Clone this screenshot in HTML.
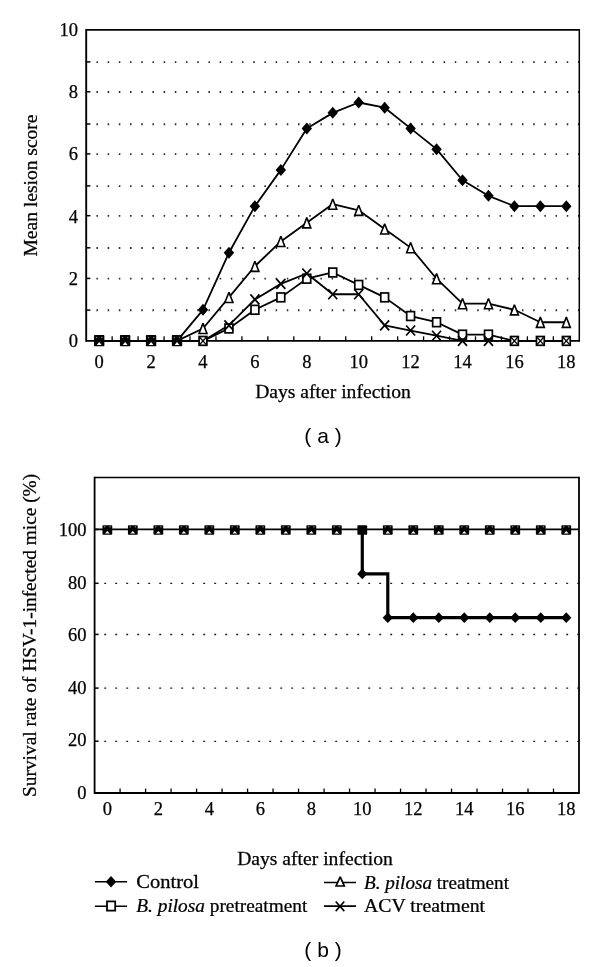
<!DOCTYPE html><html><head><meta charset="utf-8"><style>html,body{margin:0;padding:0;background:#fff;}svg{display:block;filter:grayscale(1)}</style></head><body>
<svg width="600" height="967" viewBox="0 0 600 967">
<rect width="600" height="967" fill="#fff"/>
<path d="M96.45 309.35h1.5v1.9h-1.5zM107.65 309.35h1.5v1.9h-1.5zM118.84 309.35h1.5v1.9h-1.5zM130.04 309.35h1.5v1.9h-1.5zM141.24 309.35h1.5v1.9h-1.5zM152.44 309.35h1.5v1.9h-1.5zM163.64 309.35h1.5v1.9h-1.5zM174.83 309.35h1.5v1.9h-1.5zM186.03 309.35h1.5v1.9h-1.5zM197.23 309.35h1.5v1.9h-1.5zM208.43 309.35h1.5v1.9h-1.5zM219.63 309.35h1.5v1.9h-1.5zM230.82 309.35h1.5v1.9h-1.5zM242.02 309.35h1.5v1.9h-1.5zM253.22 309.35h1.5v1.9h-1.5zM264.42 309.35h1.5v1.9h-1.5zM275.62 309.35h1.5v1.9h-1.5zM286.81 309.35h1.5v1.9h-1.5zM298.01 309.35h1.5v1.9h-1.5zM309.21 309.35h1.5v1.9h-1.5zM320.41 309.35h1.5v1.9h-1.5zM331.61 309.35h1.5v1.9h-1.5zM342.80 309.35h1.5v1.9h-1.5zM354.00 309.35h1.5v1.9h-1.5zM365.20 309.35h1.5v1.9h-1.5zM376.40 309.35h1.5v1.9h-1.5zM387.60 309.35h1.5v1.9h-1.5zM398.79 309.35h1.5v1.9h-1.5zM409.99 309.35h1.5v1.9h-1.5zM421.19 309.35h1.5v1.9h-1.5zM432.39 309.35h1.5v1.9h-1.5zM443.59 309.35h1.5v1.9h-1.5zM454.78 309.35h1.5v1.9h-1.5zM465.98 309.35h1.5v1.9h-1.5zM477.18 309.35h1.5v1.9h-1.5zM488.38 309.35h1.5v1.9h-1.5zM499.58 309.35h1.5v1.9h-1.5zM510.77 309.35h1.5v1.9h-1.5zM521.97 309.35h1.5v1.9h-1.5zM533.17 309.35h1.5v1.9h-1.5zM544.37 309.35h1.5v1.9h-1.5zM555.57 309.35h1.5v1.9h-1.5zM566.76 309.35h1.5v1.9h-1.5zM577.96 309.35h1.5v1.9h-1.5z" fill="#2a2a2a"/>
<path d="M96.45 277.65h1.5v1.9h-1.5zM107.65 277.65h1.5v1.9h-1.5zM118.84 277.65h1.5v1.9h-1.5zM130.04 277.65h1.5v1.9h-1.5zM141.24 277.65h1.5v1.9h-1.5zM152.44 277.65h1.5v1.9h-1.5zM163.64 277.65h1.5v1.9h-1.5zM174.83 277.65h1.5v1.9h-1.5zM186.03 277.65h1.5v1.9h-1.5zM197.23 277.65h1.5v1.9h-1.5zM208.43 277.65h1.5v1.9h-1.5zM219.63 277.65h1.5v1.9h-1.5zM230.82 277.65h1.5v1.9h-1.5zM242.02 277.65h1.5v1.9h-1.5zM253.22 277.65h1.5v1.9h-1.5zM264.42 277.65h1.5v1.9h-1.5zM275.62 277.65h1.5v1.9h-1.5zM286.81 277.65h1.5v1.9h-1.5zM298.01 277.65h1.5v1.9h-1.5zM309.21 277.65h1.5v1.9h-1.5zM320.41 277.65h1.5v1.9h-1.5zM331.61 277.65h1.5v1.9h-1.5zM342.80 277.65h1.5v1.9h-1.5zM354.00 277.65h1.5v1.9h-1.5zM365.20 277.65h1.5v1.9h-1.5zM376.40 277.65h1.5v1.9h-1.5zM387.60 277.65h1.5v1.9h-1.5zM398.79 277.65h1.5v1.9h-1.5zM409.99 277.65h1.5v1.9h-1.5zM421.19 277.65h1.5v1.9h-1.5zM432.39 277.65h1.5v1.9h-1.5zM443.59 277.65h1.5v1.9h-1.5zM454.78 277.65h1.5v1.9h-1.5zM465.98 277.65h1.5v1.9h-1.5zM477.18 277.65h1.5v1.9h-1.5zM488.38 277.65h1.5v1.9h-1.5zM499.58 277.65h1.5v1.9h-1.5zM510.77 277.65h1.5v1.9h-1.5zM521.97 277.65h1.5v1.9h-1.5zM533.17 277.65h1.5v1.9h-1.5zM544.37 277.65h1.5v1.9h-1.5zM555.57 277.65h1.5v1.9h-1.5zM566.76 277.65h1.5v1.9h-1.5zM577.96 277.65h1.5v1.9h-1.5z" fill="#2a2a2a"/>
<path d="M96.45 247.05h1.5v1.9h-1.5zM107.65 247.05h1.5v1.9h-1.5zM118.84 247.05h1.5v1.9h-1.5zM130.04 247.05h1.5v1.9h-1.5zM141.24 247.05h1.5v1.9h-1.5zM152.44 247.05h1.5v1.9h-1.5zM163.64 247.05h1.5v1.9h-1.5zM174.83 247.05h1.5v1.9h-1.5zM186.03 247.05h1.5v1.9h-1.5zM197.23 247.05h1.5v1.9h-1.5zM208.43 247.05h1.5v1.9h-1.5zM219.63 247.05h1.5v1.9h-1.5zM230.82 247.05h1.5v1.9h-1.5zM242.02 247.05h1.5v1.9h-1.5zM253.22 247.05h1.5v1.9h-1.5zM264.42 247.05h1.5v1.9h-1.5zM275.62 247.05h1.5v1.9h-1.5zM286.81 247.05h1.5v1.9h-1.5zM298.01 247.05h1.5v1.9h-1.5zM309.21 247.05h1.5v1.9h-1.5zM320.41 247.05h1.5v1.9h-1.5zM331.61 247.05h1.5v1.9h-1.5zM342.80 247.05h1.5v1.9h-1.5zM354.00 247.05h1.5v1.9h-1.5zM365.20 247.05h1.5v1.9h-1.5zM376.40 247.05h1.5v1.9h-1.5zM387.60 247.05h1.5v1.9h-1.5zM398.79 247.05h1.5v1.9h-1.5zM409.99 247.05h1.5v1.9h-1.5zM421.19 247.05h1.5v1.9h-1.5zM432.39 247.05h1.5v1.9h-1.5zM443.59 247.05h1.5v1.9h-1.5zM454.78 247.05h1.5v1.9h-1.5zM465.98 247.05h1.5v1.9h-1.5zM477.18 247.05h1.5v1.9h-1.5zM488.38 247.05h1.5v1.9h-1.5zM499.58 247.05h1.5v1.9h-1.5zM510.77 247.05h1.5v1.9h-1.5zM521.97 247.05h1.5v1.9h-1.5zM533.17 247.05h1.5v1.9h-1.5zM544.37 247.05h1.5v1.9h-1.5zM555.57 247.05h1.5v1.9h-1.5zM566.76 247.05h1.5v1.9h-1.5zM577.96 247.05h1.5v1.9h-1.5z" fill="#2a2a2a"/>
<path d="M96.45 214.95h1.5v1.9h-1.5zM107.65 214.95h1.5v1.9h-1.5zM118.84 214.95h1.5v1.9h-1.5zM130.04 214.95h1.5v1.9h-1.5zM141.24 214.95h1.5v1.9h-1.5zM152.44 214.95h1.5v1.9h-1.5zM163.64 214.95h1.5v1.9h-1.5zM174.83 214.95h1.5v1.9h-1.5zM186.03 214.95h1.5v1.9h-1.5zM197.23 214.95h1.5v1.9h-1.5zM208.43 214.95h1.5v1.9h-1.5zM219.63 214.95h1.5v1.9h-1.5zM230.82 214.95h1.5v1.9h-1.5zM242.02 214.95h1.5v1.9h-1.5zM253.22 214.95h1.5v1.9h-1.5zM264.42 214.95h1.5v1.9h-1.5zM275.62 214.95h1.5v1.9h-1.5zM286.81 214.95h1.5v1.9h-1.5zM298.01 214.95h1.5v1.9h-1.5zM309.21 214.95h1.5v1.9h-1.5zM320.41 214.95h1.5v1.9h-1.5zM331.61 214.95h1.5v1.9h-1.5zM342.80 214.95h1.5v1.9h-1.5zM354.00 214.95h1.5v1.9h-1.5zM365.20 214.95h1.5v1.9h-1.5zM376.40 214.95h1.5v1.9h-1.5zM387.60 214.95h1.5v1.9h-1.5zM398.79 214.95h1.5v1.9h-1.5zM409.99 214.95h1.5v1.9h-1.5zM421.19 214.95h1.5v1.9h-1.5zM432.39 214.95h1.5v1.9h-1.5zM443.59 214.95h1.5v1.9h-1.5zM454.78 214.95h1.5v1.9h-1.5zM465.98 214.95h1.5v1.9h-1.5zM477.18 214.95h1.5v1.9h-1.5zM488.38 214.95h1.5v1.9h-1.5zM499.58 214.95h1.5v1.9h-1.5zM510.77 214.95h1.5v1.9h-1.5zM521.97 214.95h1.5v1.9h-1.5zM533.17 214.95h1.5v1.9h-1.5zM544.37 214.95h1.5v1.9h-1.5zM555.57 214.95h1.5v1.9h-1.5zM566.76 214.95h1.5v1.9h-1.5zM577.96 214.95h1.5v1.9h-1.5z" fill="#2a2a2a"/>
<path d="M96.45 185.15h1.5v1.9h-1.5zM107.65 185.15h1.5v1.9h-1.5zM118.84 185.15h1.5v1.9h-1.5zM130.04 185.15h1.5v1.9h-1.5zM141.24 185.15h1.5v1.9h-1.5zM152.44 185.15h1.5v1.9h-1.5zM163.64 185.15h1.5v1.9h-1.5zM174.83 185.15h1.5v1.9h-1.5zM186.03 185.15h1.5v1.9h-1.5zM197.23 185.15h1.5v1.9h-1.5zM208.43 185.15h1.5v1.9h-1.5zM219.63 185.15h1.5v1.9h-1.5zM230.82 185.15h1.5v1.9h-1.5zM242.02 185.15h1.5v1.9h-1.5zM253.22 185.15h1.5v1.9h-1.5zM264.42 185.15h1.5v1.9h-1.5zM275.62 185.15h1.5v1.9h-1.5zM286.81 185.15h1.5v1.9h-1.5zM298.01 185.15h1.5v1.9h-1.5zM309.21 185.15h1.5v1.9h-1.5zM320.41 185.15h1.5v1.9h-1.5zM331.61 185.15h1.5v1.9h-1.5zM342.80 185.15h1.5v1.9h-1.5zM354.00 185.15h1.5v1.9h-1.5zM365.20 185.15h1.5v1.9h-1.5zM376.40 185.15h1.5v1.9h-1.5zM387.60 185.15h1.5v1.9h-1.5zM398.79 185.15h1.5v1.9h-1.5zM409.99 185.15h1.5v1.9h-1.5zM421.19 185.15h1.5v1.9h-1.5zM432.39 185.15h1.5v1.9h-1.5zM443.59 185.15h1.5v1.9h-1.5zM454.78 185.15h1.5v1.9h-1.5zM465.98 185.15h1.5v1.9h-1.5zM477.18 185.15h1.5v1.9h-1.5zM488.38 185.15h1.5v1.9h-1.5zM499.58 185.15h1.5v1.9h-1.5zM510.77 185.15h1.5v1.9h-1.5zM521.97 185.15h1.5v1.9h-1.5zM533.17 185.15h1.5v1.9h-1.5zM544.37 185.15h1.5v1.9h-1.5zM555.57 185.15h1.5v1.9h-1.5zM566.76 185.15h1.5v1.9h-1.5zM577.96 185.15h1.5v1.9h-1.5z" fill="#2a2a2a"/>
<path d="M96.45 153.15h1.5v1.9h-1.5zM107.65 153.15h1.5v1.9h-1.5zM118.84 153.15h1.5v1.9h-1.5zM130.04 153.15h1.5v1.9h-1.5zM141.24 153.15h1.5v1.9h-1.5zM152.44 153.15h1.5v1.9h-1.5zM163.64 153.15h1.5v1.9h-1.5zM174.83 153.15h1.5v1.9h-1.5zM186.03 153.15h1.5v1.9h-1.5zM197.23 153.15h1.5v1.9h-1.5zM208.43 153.15h1.5v1.9h-1.5zM219.63 153.15h1.5v1.9h-1.5zM230.82 153.15h1.5v1.9h-1.5zM242.02 153.15h1.5v1.9h-1.5zM253.22 153.15h1.5v1.9h-1.5zM264.42 153.15h1.5v1.9h-1.5zM275.62 153.15h1.5v1.9h-1.5zM286.81 153.15h1.5v1.9h-1.5zM298.01 153.15h1.5v1.9h-1.5zM309.21 153.15h1.5v1.9h-1.5zM320.41 153.15h1.5v1.9h-1.5zM331.61 153.15h1.5v1.9h-1.5zM342.80 153.15h1.5v1.9h-1.5zM354.00 153.15h1.5v1.9h-1.5zM365.20 153.15h1.5v1.9h-1.5zM376.40 153.15h1.5v1.9h-1.5zM387.60 153.15h1.5v1.9h-1.5zM398.79 153.15h1.5v1.9h-1.5zM409.99 153.15h1.5v1.9h-1.5zM421.19 153.15h1.5v1.9h-1.5zM432.39 153.15h1.5v1.9h-1.5zM443.59 153.15h1.5v1.9h-1.5zM454.78 153.15h1.5v1.9h-1.5zM465.98 153.15h1.5v1.9h-1.5zM477.18 153.15h1.5v1.9h-1.5zM488.38 153.15h1.5v1.9h-1.5zM499.58 153.15h1.5v1.9h-1.5zM510.77 153.15h1.5v1.9h-1.5zM521.97 153.15h1.5v1.9h-1.5zM533.17 153.15h1.5v1.9h-1.5zM544.37 153.15h1.5v1.9h-1.5zM555.57 153.15h1.5v1.9h-1.5zM566.76 153.15h1.5v1.9h-1.5zM577.96 153.15h1.5v1.9h-1.5z" fill="#2a2a2a"/>
<path d="M96.45 123.25h1.5v1.9h-1.5zM107.65 123.25h1.5v1.9h-1.5zM118.84 123.25h1.5v1.9h-1.5zM130.04 123.25h1.5v1.9h-1.5zM141.24 123.25h1.5v1.9h-1.5zM152.44 123.25h1.5v1.9h-1.5zM163.64 123.25h1.5v1.9h-1.5zM174.83 123.25h1.5v1.9h-1.5zM186.03 123.25h1.5v1.9h-1.5zM197.23 123.25h1.5v1.9h-1.5zM208.43 123.25h1.5v1.9h-1.5zM219.63 123.25h1.5v1.9h-1.5zM230.82 123.25h1.5v1.9h-1.5zM242.02 123.25h1.5v1.9h-1.5zM253.22 123.25h1.5v1.9h-1.5zM264.42 123.25h1.5v1.9h-1.5zM275.62 123.25h1.5v1.9h-1.5zM286.81 123.25h1.5v1.9h-1.5zM298.01 123.25h1.5v1.9h-1.5zM309.21 123.25h1.5v1.9h-1.5zM320.41 123.25h1.5v1.9h-1.5zM331.61 123.25h1.5v1.9h-1.5zM342.80 123.25h1.5v1.9h-1.5zM354.00 123.25h1.5v1.9h-1.5zM365.20 123.25h1.5v1.9h-1.5zM376.40 123.25h1.5v1.9h-1.5zM387.60 123.25h1.5v1.9h-1.5zM398.79 123.25h1.5v1.9h-1.5zM409.99 123.25h1.5v1.9h-1.5zM421.19 123.25h1.5v1.9h-1.5zM432.39 123.25h1.5v1.9h-1.5zM443.59 123.25h1.5v1.9h-1.5zM454.78 123.25h1.5v1.9h-1.5zM465.98 123.25h1.5v1.9h-1.5zM477.18 123.25h1.5v1.9h-1.5zM488.38 123.25h1.5v1.9h-1.5zM499.58 123.25h1.5v1.9h-1.5zM510.77 123.25h1.5v1.9h-1.5zM521.97 123.25h1.5v1.9h-1.5zM533.17 123.25h1.5v1.9h-1.5zM544.37 123.25h1.5v1.9h-1.5zM555.57 123.25h1.5v1.9h-1.5zM566.76 123.25h1.5v1.9h-1.5zM577.96 123.25h1.5v1.9h-1.5z" fill="#2a2a2a"/>
<path d="M96.45 91.05h1.5v1.9h-1.5zM107.65 91.05h1.5v1.9h-1.5zM118.84 91.05h1.5v1.9h-1.5zM130.04 91.05h1.5v1.9h-1.5zM141.24 91.05h1.5v1.9h-1.5zM152.44 91.05h1.5v1.9h-1.5zM163.64 91.05h1.5v1.9h-1.5zM174.83 91.05h1.5v1.9h-1.5zM186.03 91.05h1.5v1.9h-1.5zM197.23 91.05h1.5v1.9h-1.5zM208.43 91.05h1.5v1.9h-1.5zM219.63 91.05h1.5v1.9h-1.5zM230.82 91.05h1.5v1.9h-1.5zM242.02 91.05h1.5v1.9h-1.5zM253.22 91.05h1.5v1.9h-1.5zM264.42 91.05h1.5v1.9h-1.5zM275.62 91.05h1.5v1.9h-1.5zM286.81 91.05h1.5v1.9h-1.5zM298.01 91.05h1.5v1.9h-1.5zM309.21 91.05h1.5v1.9h-1.5zM320.41 91.05h1.5v1.9h-1.5zM331.61 91.05h1.5v1.9h-1.5zM342.80 91.05h1.5v1.9h-1.5zM354.00 91.05h1.5v1.9h-1.5zM365.20 91.05h1.5v1.9h-1.5zM376.40 91.05h1.5v1.9h-1.5zM387.60 91.05h1.5v1.9h-1.5zM398.79 91.05h1.5v1.9h-1.5zM409.99 91.05h1.5v1.9h-1.5zM421.19 91.05h1.5v1.9h-1.5zM432.39 91.05h1.5v1.9h-1.5zM443.59 91.05h1.5v1.9h-1.5zM454.78 91.05h1.5v1.9h-1.5zM465.98 91.05h1.5v1.9h-1.5zM477.18 91.05h1.5v1.9h-1.5zM488.38 91.05h1.5v1.9h-1.5zM499.58 91.05h1.5v1.9h-1.5zM510.77 91.05h1.5v1.9h-1.5zM521.97 91.05h1.5v1.9h-1.5zM533.17 91.05h1.5v1.9h-1.5zM544.37 91.05h1.5v1.9h-1.5zM555.57 91.05h1.5v1.9h-1.5zM566.76 91.05h1.5v1.9h-1.5zM577.96 91.05h1.5v1.9h-1.5z" fill="#2a2a2a"/>
<path d="M96.45 61.15h1.5v1.9h-1.5zM107.65 61.15h1.5v1.9h-1.5zM118.84 61.15h1.5v1.9h-1.5zM130.04 61.15h1.5v1.9h-1.5zM141.24 61.15h1.5v1.9h-1.5zM152.44 61.15h1.5v1.9h-1.5zM163.64 61.15h1.5v1.9h-1.5zM174.83 61.15h1.5v1.9h-1.5zM186.03 61.15h1.5v1.9h-1.5zM197.23 61.15h1.5v1.9h-1.5zM208.43 61.15h1.5v1.9h-1.5zM219.63 61.15h1.5v1.9h-1.5zM230.82 61.15h1.5v1.9h-1.5zM242.02 61.15h1.5v1.9h-1.5zM253.22 61.15h1.5v1.9h-1.5zM264.42 61.15h1.5v1.9h-1.5zM275.62 61.15h1.5v1.9h-1.5zM286.81 61.15h1.5v1.9h-1.5zM298.01 61.15h1.5v1.9h-1.5zM309.21 61.15h1.5v1.9h-1.5zM320.41 61.15h1.5v1.9h-1.5zM331.61 61.15h1.5v1.9h-1.5zM342.80 61.15h1.5v1.9h-1.5zM354.00 61.15h1.5v1.9h-1.5zM365.20 61.15h1.5v1.9h-1.5zM376.40 61.15h1.5v1.9h-1.5zM387.60 61.15h1.5v1.9h-1.5zM398.79 61.15h1.5v1.9h-1.5zM409.99 61.15h1.5v1.9h-1.5zM421.19 61.15h1.5v1.9h-1.5zM432.39 61.15h1.5v1.9h-1.5zM443.59 61.15h1.5v1.9h-1.5zM454.78 61.15h1.5v1.9h-1.5zM465.98 61.15h1.5v1.9h-1.5zM477.18 61.15h1.5v1.9h-1.5zM488.38 61.15h1.5v1.9h-1.5zM499.58 61.15h1.5v1.9h-1.5zM510.77 61.15h1.5v1.9h-1.5zM521.97 61.15h1.5v1.9h-1.5zM533.17 61.15h1.5v1.9h-1.5zM544.37 61.15h1.5v1.9h-1.5zM555.57 61.15h1.5v1.9h-1.5zM566.76 61.15h1.5v1.9h-1.5zM577.96 61.15h1.5v1.9h-1.5z" fill="#2a2a2a"/>
<path d="M86.20 310.10h4.2" stroke="#000" stroke-width="1.5"/>
<path d="M86.20 278.40h4.2" stroke="#000" stroke-width="1.5"/>
<path d="M86.20 247.80h4.2" stroke="#000" stroke-width="1.5"/>
<path d="M86.20 215.70h4.2" stroke="#000" stroke-width="1.5"/>
<path d="M86.20 185.90h4.2" stroke="#000" stroke-width="1.5"/>
<path d="M86.20 153.90h4.2" stroke="#000" stroke-width="1.5"/>
<path d="M86.20 124.00h4.2" stroke="#000" stroke-width="1.5"/>
<path d="M86.20 91.80h4.2" stroke="#000" stroke-width="1.5"/>
<path d="M86.20 61.90h4.2" stroke="#000" stroke-width="1.5"/>
<path d="M112.15 340.90v-4.6" stroke="#000" stroke-width="1.3"/>
<path d="M138.11 340.90v-4.6" stroke="#000" stroke-width="1.3"/>
<path d="M164.06 340.90v-4.6" stroke="#000" stroke-width="1.3"/>
<path d="M190.01 340.90v-4.6" stroke="#000" stroke-width="1.3"/>
<path d="M215.96 340.90v-4.6" stroke="#000" stroke-width="1.3"/>
<path d="M241.92 340.90v-4.6" stroke="#000" stroke-width="1.3"/>
<path d="M267.87 340.90v-4.6" stroke="#000" stroke-width="1.3"/>
<path d="M293.82 340.90v-4.6" stroke="#000" stroke-width="1.3"/>
<path d="M319.77 340.90v-4.6" stroke="#000" stroke-width="1.3"/>
<path d="M345.73 340.90v-4.6" stroke="#000" stroke-width="1.3"/>
<path d="M371.68 340.90v-4.6" stroke="#000" stroke-width="1.3"/>
<path d="M397.63 340.90v-4.6" stroke="#000" stroke-width="1.3"/>
<path d="M423.58 340.90v-4.6" stroke="#000" stroke-width="1.3"/>
<path d="M449.54 340.90v-4.6" stroke="#000" stroke-width="1.3"/>
<path d="M475.49 340.90v-4.6" stroke="#000" stroke-width="1.3"/>
<path d="M501.44 340.90v-4.6" stroke="#000" stroke-width="1.3"/>
<path d="M527.39 340.90v-4.6" stroke="#000" stroke-width="1.3"/>
<path d="M553.35 340.90v-4.6" stroke="#000" stroke-width="1.3"/>
<path d="M86.20 29.05V341.85" stroke="#000" stroke-width="1.9"/><path d="M579.30 29.05V341.85" stroke="#000" stroke-width="1.5"/><path d="M86.20 29.95H579.30" stroke="#000" stroke-width="1.8"/><path d="M86.20 340.90H579.30" stroke="#000" stroke-width="1.9"/>
<path d="M99.18 340.90L125.13 340.90L151.08 340.90L177.03 340.90L202.99 309.80L228.94 252.80L254.89 206.16L280.84 169.88L306.80 128.42L332.75 112.87L358.70 102.50L384.66 107.69L410.61 128.42L436.56 149.15L462.51 180.24L488.47 195.79L514.42 206.16L540.37 206.16L566.32 206.16" fill="none" stroke="#000" stroke-width="1.8" stroke-linejoin="round"/>
<path d="M99.18 340.90L125.13 340.90L151.08 340.90L177.03 340.90L202.99 328.46L228.94 297.37L254.89 266.27L280.84 241.40L306.80 222.74L332.75 204.08L358.70 210.30L384.66 228.96L410.61 247.61L436.56 278.71L462.51 303.59L488.47 303.59L514.42 309.80L540.37 322.24L566.32 322.24" fill="none" stroke="#000" stroke-width="1.8" stroke-linejoin="round"/>
<path d="M99.18 340.90L125.13 340.90L151.08 340.90L177.03 340.90L202.99 340.90L228.94 328.46L254.89 309.80L280.84 297.37L306.80 278.71L332.75 272.49L358.70 284.93L384.66 297.37L410.61 316.02L436.56 322.24L462.51 334.68L488.47 334.68L514.42 340.90L540.37 340.90L566.32 340.90" fill="none" stroke="#000" stroke-width="1.8" stroke-linejoin="round"/>
<path d="M99.18 340.90L125.13 340.90L151.08 340.90L177.03 340.90L202.99 340.90L228.94 325.35L254.89 299.44L280.84 283.89L306.80 273.53L332.75 294.26L358.70 294.26L384.66 325.35L410.61 330.53L436.56 335.72L462.51 340.90L488.47 340.90L514.42 340.90L540.37 340.90L566.32 340.90" fill="none" stroke="#000" stroke-width="1.8" stroke-linejoin="round"/>
<rect x="93.98" y="335.10" width="10.4" height="11.2" rx="0.8" fill="#000"/><path d="M99.18 341.90L101.58 345.00L96.78 345.00Z" fill="#fff"/><rect x="95.88" y="336.80" width="1.4" height="1.4" fill="#fff" opacity="0.45"/><rect x="101.08" y="336.80" width="1.4" height="1.4" fill="#fff" opacity="0.45"/>
<rect x="119.93" y="335.10" width="10.4" height="11.2" rx="0.8" fill="#000"/><path d="M125.13 341.90L127.53 345.00L122.73 345.00Z" fill="#fff"/><rect x="121.83" y="336.80" width="1.4" height="1.4" fill="#fff" opacity="0.45"/><rect x="127.03" y="336.80" width="1.4" height="1.4" fill="#fff" opacity="0.45"/>
<rect x="145.88" y="335.10" width="10.4" height="11.2" rx="0.8" fill="#000"/><path d="M151.08 341.90L153.48 345.00L148.68 345.00Z" fill="#fff"/><rect x="147.78" y="336.80" width="1.4" height="1.4" fill="#fff" opacity="0.45"/><rect x="152.98" y="336.80" width="1.4" height="1.4" fill="#fff" opacity="0.45"/>
<rect x="171.83" y="335.10" width="10.4" height="11.2" rx="0.8" fill="#000"/><path d="M177.03 341.90L179.43 345.00L174.63 345.00Z" fill="#fff"/><rect x="173.73" y="336.80" width="1.4" height="1.4" fill="#fff" opacity="0.45"/><rect x="178.93" y="336.80" width="1.4" height="1.4" fill="#fff" opacity="0.45"/>
<path d="M202.99 303.80L208.19 309.80L202.99 315.80L197.79 309.80Z" fill="#000"/>
<path d="M202.99 323.36L206.99 333.56L198.99 333.56Z" fill="#fff" stroke="#000" stroke-width="1.6" stroke-linejoin="miter" stroke-miterlimit="2"/>
<rect x="199.09" y="336.50" width="7.80" height="8.80" fill="#fff" stroke="#000" stroke-width="1.7"/><path d="M199.69 337.20L206.29 344.60M206.29 337.20L199.69 344.60" stroke="#000" stroke-width="1.3" fill="none"/>
<path d="M228.94 246.80L234.14 252.80L228.94 258.80L223.74 252.80Z" fill="#000"/>
<path d="M228.94 292.27L232.94 302.47L224.94 302.47Z" fill="#fff" stroke="#000" stroke-width="1.6" stroke-linejoin="miter" stroke-miterlimit="2"/>
<rect x="225.04" y="324.06" width="7.80" height="8.80" fill="#fff" stroke="#000" stroke-width="1.7"/>
<path d="M224.44 320.35L233.44 330.35M233.44 320.35L224.44 330.35" stroke="#000" stroke-width="1.7" fill="none"/>
<path d="M254.89 200.16L260.09 206.16L254.89 212.16L249.69 206.16Z" fill="#000"/>
<path d="M254.89 261.17L258.89 271.37L250.89 271.37Z" fill="#fff" stroke="#000" stroke-width="1.6" stroke-linejoin="miter" stroke-miterlimit="2"/>
<rect x="250.99" y="305.40" width="7.80" height="8.80" fill="#fff" stroke="#000" stroke-width="1.7"/>
<path d="M250.39 294.44L259.39 304.44M259.39 294.44L250.39 304.44" stroke="#000" stroke-width="1.7" fill="none"/>
<path d="M280.84 163.88L286.04 169.88L280.84 175.88L275.64 169.88Z" fill="#000"/>
<path d="M280.84 236.30L284.84 246.50L276.84 246.50Z" fill="#fff" stroke="#000" stroke-width="1.6" stroke-linejoin="miter" stroke-miterlimit="2"/>
<rect x="276.94" y="292.97" width="7.80" height="8.80" fill="#fff" stroke="#000" stroke-width="1.7"/>
<path d="M276.34 278.89L285.34 288.89M285.34 278.89L276.34 288.89" stroke="#000" stroke-width="1.7" fill="none"/>
<path d="M306.80 122.42L312.00 128.42L306.80 134.42L301.60 128.42Z" fill="#000"/>
<path d="M306.80 217.64L310.80 227.84L302.80 227.84Z" fill="#fff" stroke="#000" stroke-width="1.6" stroke-linejoin="miter" stroke-miterlimit="2"/>
<rect x="302.90" y="274.31" width="7.80" height="8.80" fill="#fff" stroke="#000" stroke-width="1.7"/>
<path d="M302.30 268.53L311.30 278.53M311.30 268.53L302.30 278.53" stroke="#000" stroke-width="1.7" fill="none"/>
<path d="M332.75 106.87L337.95 112.87L332.75 118.87L327.55 112.87Z" fill="#000"/>
<path d="M332.75 198.98L336.75 209.18L328.75 209.18Z" fill="#fff" stroke="#000" stroke-width="1.6" stroke-linejoin="miter" stroke-miterlimit="2"/>
<rect x="328.85" y="268.09" width="7.80" height="8.80" fill="#fff" stroke="#000" stroke-width="1.7"/>
<path d="M328.25 289.26L337.25 299.26M337.25 289.26L328.25 299.26" stroke="#000" stroke-width="1.7" fill="none"/>
<path d="M358.70 96.50L363.90 102.50L358.70 108.50L353.50 102.50Z" fill="#000"/>
<path d="M358.70 205.20L362.70 215.40L354.70 215.40Z" fill="#fff" stroke="#000" stroke-width="1.6" stroke-linejoin="miter" stroke-miterlimit="2"/>
<rect x="354.80" y="280.53" width="7.80" height="8.80" fill="#fff" stroke="#000" stroke-width="1.7"/>
<path d="M354.20 289.26L363.20 299.26M363.20 289.26L354.20 299.26" stroke="#000" stroke-width="1.7" fill="none"/>
<path d="M384.66 101.69L389.86 107.69L384.66 113.69L379.46 107.69Z" fill="#000"/>
<path d="M384.66 223.86L388.66 234.06L380.66 234.06Z" fill="#fff" stroke="#000" stroke-width="1.6" stroke-linejoin="miter" stroke-miterlimit="2"/>
<rect x="380.76" y="292.97" width="7.80" height="8.80" fill="#fff" stroke="#000" stroke-width="1.7"/>
<path d="M380.16 320.35L389.16 330.35M389.16 320.35L380.16 330.35" stroke="#000" stroke-width="1.7" fill="none"/>
<path d="M410.61 122.42L415.81 128.42L410.61 134.42L405.41 128.42Z" fill="#000"/>
<path d="M410.61 242.51L414.61 252.71L406.61 252.71Z" fill="#fff" stroke="#000" stroke-width="1.6" stroke-linejoin="miter" stroke-miterlimit="2"/>
<rect x="406.71" y="311.62" width="7.80" height="8.80" fill="#fff" stroke="#000" stroke-width="1.7"/>
<path d="M406.11 325.53L415.11 335.53M415.11 325.53L406.11 335.53" stroke="#000" stroke-width="1.7" fill="none"/>
<path d="M436.56 143.15L441.76 149.15L436.56 155.15L431.36 149.15Z" fill="#000"/>
<path d="M436.56 273.61L440.56 283.81L432.56 283.81Z" fill="#fff" stroke="#000" stroke-width="1.6" stroke-linejoin="miter" stroke-miterlimit="2"/>
<rect x="432.66" y="317.84" width="7.80" height="8.80" fill="#fff" stroke="#000" stroke-width="1.7"/>
<path d="M432.06 330.72L441.06 340.72M441.06 330.72L432.06 340.72" stroke="#000" stroke-width="1.7" fill="none"/>
<path d="M462.51 174.24L467.71 180.24L462.51 186.24L457.31 180.24Z" fill="#000"/>
<path d="M462.51 298.49L466.51 308.69L458.51 308.69Z" fill="#fff" stroke="#000" stroke-width="1.6" stroke-linejoin="miter" stroke-miterlimit="2"/>
<rect x="458.61" y="330.28" width="7.80" height="8.80" fill="#fff" stroke="#000" stroke-width="1.7"/>
<path d="M458.01 335.90L467.01 345.90M467.01 335.90L458.01 345.90" stroke="#000" stroke-width="1.7" fill="none"/>
<path d="M488.47 189.79L493.67 195.79L488.47 201.79L483.27 195.79Z" fill="#000"/>
<path d="M488.47 298.49L492.47 308.69L484.47 308.69Z" fill="#fff" stroke="#000" stroke-width="1.6" stroke-linejoin="miter" stroke-miterlimit="2"/>
<rect x="484.57" y="330.28" width="7.80" height="8.80" fill="#fff" stroke="#000" stroke-width="1.7"/>
<path d="M483.97 335.90L492.97 345.90M492.97 335.90L483.97 345.90" stroke="#000" stroke-width="1.7" fill="none"/>
<path d="M514.42 200.16L519.62 206.16L514.42 212.16L509.22 206.16Z" fill="#000"/>
<path d="M514.42 304.70L518.42 314.90L510.42 314.90Z" fill="#fff" stroke="#000" stroke-width="1.6" stroke-linejoin="miter" stroke-miterlimit="2"/>
<rect x="510.52" y="336.50" width="7.80" height="8.80" fill="#fff" stroke="#000" stroke-width="1.7"/><path d="M511.12 337.20L517.72 344.60M517.72 337.20L511.12 344.60" stroke="#000" stroke-width="1.3" fill="none"/>
<path d="M540.37 200.16L545.57 206.16L540.37 212.16L535.17 206.16Z" fill="#000"/>
<path d="M540.37 317.14L544.37 327.34L536.37 327.34Z" fill="#fff" stroke="#000" stroke-width="1.6" stroke-linejoin="miter" stroke-miterlimit="2"/>
<rect x="536.47" y="336.50" width="7.80" height="8.80" fill="#fff" stroke="#000" stroke-width="1.7"/><path d="M537.07 337.20L543.67 344.60M543.67 337.20L537.07 344.60" stroke="#000" stroke-width="1.3" fill="none"/>
<path d="M566.32 200.16L571.52 206.16L566.32 212.16L561.12 206.16Z" fill="#000"/>
<path d="M566.32 317.14L570.32 327.34L562.32 327.34Z" fill="#fff" stroke="#000" stroke-width="1.6" stroke-linejoin="miter" stroke-miterlimit="2"/>
<rect x="562.42" y="336.50" width="7.80" height="8.80" fill="#fff" stroke="#000" stroke-width="1.7"/><path d="M563.02 337.20L569.62 344.60M569.62 337.20L563.02 344.60" stroke="#000" stroke-width="1.3" fill="none"/>
<text transform="translate(77.90 347.00)" text-anchor="end" font-family='"Liberation Serif", serif' font-size="18.5" stroke="#000" stroke-width="0.25">0</text>
<text transform="translate(77.90 284.81)" text-anchor="end" font-family='"Liberation Serif", serif' font-size="18.5" stroke="#000" stroke-width="0.25">2</text>
<text transform="translate(77.90 222.62)" text-anchor="end" font-family='"Liberation Serif", serif' font-size="18.5" stroke="#000" stroke-width="0.25">4</text>
<text transform="translate(77.90 160.43)" text-anchor="end" font-family='"Liberation Serif", serif' font-size="18.5" stroke="#000" stroke-width="0.25">6</text>
<text transform="translate(77.90 98.24)" text-anchor="end" font-family='"Liberation Serif", serif' font-size="18.5" stroke="#000" stroke-width="0.25">8</text>
<text transform="translate(77.90 36.05)" text-anchor="end" font-family='"Liberation Serif", serif' font-size="18.5" stroke="#000" stroke-width="0.25">10</text>
<text transform="translate(99.18 367.80)" text-anchor="middle" font-family='"Liberation Serif", serif' font-size="18.5" stroke="#000" stroke-width="0.25">0</text>
<text transform="translate(151.08 367.80)" text-anchor="middle" font-family='"Liberation Serif", serif' font-size="18.5" stroke="#000" stroke-width="0.25">2</text>
<text transform="translate(202.99 367.80)" text-anchor="middle" font-family='"Liberation Serif", serif' font-size="18.5" stroke="#000" stroke-width="0.25">4</text>
<text transform="translate(254.89 367.80)" text-anchor="middle" font-family='"Liberation Serif", serif' font-size="18.5" stroke="#000" stroke-width="0.25">6</text>
<text transform="translate(306.80 367.80)" text-anchor="middle" font-family='"Liberation Serif", serif' font-size="18.5" stroke="#000" stroke-width="0.25">8</text>
<text transform="translate(358.70 367.80)" text-anchor="middle" font-family='"Liberation Serif", serif' font-size="18.5" stroke="#000" stroke-width="0.25">10</text>
<text transform="translate(410.61 367.80)" text-anchor="middle" font-family='"Liberation Serif", serif' font-size="18.5" stroke="#000" stroke-width="0.25">12</text>
<text transform="translate(462.51 367.80)" text-anchor="middle" font-family='"Liberation Serif", serif' font-size="18.5" stroke="#000" stroke-width="0.25">14</text>
<text transform="translate(514.42 367.80)" text-anchor="middle" font-family='"Liberation Serif", serif' font-size="18.5" stroke="#000" stroke-width="0.25">16</text>
<text transform="translate(566.32 367.80)" text-anchor="middle" font-family='"Liberation Serif", serif' font-size="18.5" stroke="#000" stroke-width="0.25">18</text>
<text transform="translate(333.00 398.20) scale(1.0900 1)" text-anchor="middle" font-family='"Liberation Serif", serif' font-size="18" stroke="#000" stroke-width="0.25">Days after infection</text>
<text transform="translate(36.60 185.50) rotate(-90) scale(1.0850 1)" text-anchor="middle" font-family='"Liberation Serif", serif' font-size="18" stroke="#000" stroke-width="0.25">Mean lesion score</text>
<text transform="translate(323.00 443.40)" text-anchor="middle" font-family='"Liberation Sans", sans-serif' font-size="21" xml:space="preserve">( a )</text>
<path d="M104.25 740.65h1.9v1.3h-1.9zM115.25 740.65h1.9v1.3h-1.9zM126.25 740.65h1.9v1.3h-1.9zM137.25 740.65h1.9v1.3h-1.9zM148.25 740.65h1.9v1.3h-1.9zM159.25 740.65h1.9v1.3h-1.9zM170.25 740.65h1.9v1.3h-1.9zM181.25 740.65h1.9v1.3h-1.9zM192.25 740.65h1.9v1.3h-1.9zM203.25 740.65h1.9v1.3h-1.9zM214.25 740.65h1.9v1.3h-1.9zM225.25 740.65h1.9v1.3h-1.9zM236.25 740.65h1.9v1.3h-1.9zM247.25 740.65h1.9v1.3h-1.9zM258.25 740.65h1.9v1.3h-1.9zM269.25 740.65h1.9v1.3h-1.9zM280.25 740.65h1.9v1.3h-1.9zM291.25 740.65h1.9v1.3h-1.9zM302.25 740.65h1.9v1.3h-1.9zM313.25 740.65h1.9v1.3h-1.9zM324.25 740.65h1.9v1.3h-1.9zM335.25 740.65h1.9v1.3h-1.9zM346.25 740.65h1.9v1.3h-1.9zM357.25 740.65h1.9v1.3h-1.9zM368.25 740.65h1.9v1.3h-1.9zM379.25 740.65h1.9v1.3h-1.9zM390.25 740.65h1.9v1.3h-1.9zM401.25 740.65h1.9v1.3h-1.9zM412.25 740.65h1.9v1.3h-1.9zM423.25 740.65h1.9v1.3h-1.9zM434.25 740.65h1.9v1.3h-1.9zM445.25 740.65h1.9v1.3h-1.9zM456.25 740.65h1.9v1.3h-1.9zM467.25 740.65h1.9v1.3h-1.9zM478.25 740.65h1.9v1.3h-1.9zM489.25 740.65h1.9v1.3h-1.9zM500.25 740.65h1.9v1.3h-1.9zM511.25 740.65h1.9v1.3h-1.9zM522.25 740.65h1.9v1.3h-1.9zM533.25 740.65h1.9v1.3h-1.9zM544.25 740.65h1.9v1.3h-1.9zM555.25 740.65h1.9v1.3h-1.9zM566.25 740.65h1.9v1.3h-1.9zM577.25 740.65h1.9v1.3h-1.9z" fill="#1a1a1a"/>
<path d="M104.25 687.55h1.9v1.3h-1.9zM115.25 687.55h1.9v1.3h-1.9zM126.25 687.55h1.9v1.3h-1.9zM137.25 687.55h1.9v1.3h-1.9zM148.25 687.55h1.9v1.3h-1.9zM159.25 687.55h1.9v1.3h-1.9zM170.25 687.55h1.9v1.3h-1.9zM181.25 687.55h1.9v1.3h-1.9zM192.25 687.55h1.9v1.3h-1.9zM203.25 687.55h1.9v1.3h-1.9zM214.25 687.55h1.9v1.3h-1.9zM225.25 687.55h1.9v1.3h-1.9zM236.25 687.55h1.9v1.3h-1.9zM247.25 687.55h1.9v1.3h-1.9zM258.25 687.55h1.9v1.3h-1.9zM269.25 687.55h1.9v1.3h-1.9zM280.25 687.55h1.9v1.3h-1.9zM291.25 687.55h1.9v1.3h-1.9zM302.25 687.55h1.9v1.3h-1.9zM313.25 687.55h1.9v1.3h-1.9zM324.25 687.55h1.9v1.3h-1.9zM335.25 687.55h1.9v1.3h-1.9zM346.25 687.55h1.9v1.3h-1.9zM357.25 687.55h1.9v1.3h-1.9zM368.25 687.55h1.9v1.3h-1.9zM379.25 687.55h1.9v1.3h-1.9zM390.25 687.55h1.9v1.3h-1.9zM401.25 687.55h1.9v1.3h-1.9zM412.25 687.55h1.9v1.3h-1.9zM423.25 687.55h1.9v1.3h-1.9zM434.25 687.55h1.9v1.3h-1.9zM445.25 687.55h1.9v1.3h-1.9zM456.25 687.55h1.9v1.3h-1.9zM467.25 687.55h1.9v1.3h-1.9zM478.25 687.55h1.9v1.3h-1.9zM489.25 687.55h1.9v1.3h-1.9zM500.25 687.55h1.9v1.3h-1.9zM511.25 687.55h1.9v1.3h-1.9zM522.25 687.55h1.9v1.3h-1.9zM533.25 687.55h1.9v1.3h-1.9zM544.25 687.55h1.9v1.3h-1.9zM555.25 687.55h1.9v1.3h-1.9zM566.25 687.55h1.9v1.3h-1.9zM577.25 687.55h1.9v1.3h-1.9z" fill="#1a1a1a"/>
<path d="M104.25 633.85h1.9v1.3h-1.9zM115.25 633.85h1.9v1.3h-1.9zM126.25 633.85h1.9v1.3h-1.9zM137.25 633.85h1.9v1.3h-1.9zM148.25 633.85h1.9v1.3h-1.9zM159.25 633.85h1.9v1.3h-1.9zM170.25 633.85h1.9v1.3h-1.9zM181.25 633.85h1.9v1.3h-1.9zM192.25 633.85h1.9v1.3h-1.9zM203.25 633.85h1.9v1.3h-1.9zM214.25 633.85h1.9v1.3h-1.9zM225.25 633.85h1.9v1.3h-1.9zM236.25 633.85h1.9v1.3h-1.9zM247.25 633.85h1.9v1.3h-1.9zM258.25 633.85h1.9v1.3h-1.9zM269.25 633.85h1.9v1.3h-1.9zM280.25 633.85h1.9v1.3h-1.9zM291.25 633.85h1.9v1.3h-1.9zM302.25 633.85h1.9v1.3h-1.9zM313.25 633.85h1.9v1.3h-1.9zM324.25 633.85h1.9v1.3h-1.9zM335.25 633.85h1.9v1.3h-1.9zM346.25 633.85h1.9v1.3h-1.9zM357.25 633.85h1.9v1.3h-1.9zM368.25 633.85h1.9v1.3h-1.9zM379.25 633.85h1.9v1.3h-1.9zM390.25 633.85h1.9v1.3h-1.9zM401.25 633.85h1.9v1.3h-1.9zM412.25 633.85h1.9v1.3h-1.9zM423.25 633.85h1.9v1.3h-1.9zM434.25 633.85h1.9v1.3h-1.9zM445.25 633.85h1.9v1.3h-1.9zM456.25 633.85h1.9v1.3h-1.9zM467.25 633.85h1.9v1.3h-1.9zM478.25 633.85h1.9v1.3h-1.9zM489.25 633.85h1.9v1.3h-1.9zM500.25 633.85h1.9v1.3h-1.9zM511.25 633.85h1.9v1.3h-1.9zM522.25 633.85h1.9v1.3h-1.9zM533.25 633.85h1.9v1.3h-1.9zM544.25 633.85h1.9v1.3h-1.9zM555.25 633.85h1.9v1.3h-1.9zM566.25 633.85h1.9v1.3h-1.9zM577.25 633.85h1.9v1.3h-1.9z" fill="#1a1a1a"/>
<path d="M104.25 582.75h1.9v1.3h-1.9zM115.25 582.75h1.9v1.3h-1.9zM126.25 582.75h1.9v1.3h-1.9zM137.25 582.75h1.9v1.3h-1.9zM148.25 582.75h1.9v1.3h-1.9zM159.25 582.75h1.9v1.3h-1.9zM170.25 582.75h1.9v1.3h-1.9zM181.25 582.75h1.9v1.3h-1.9zM192.25 582.75h1.9v1.3h-1.9zM203.25 582.75h1.9v1.3h-1.9zM214.25 582.75h1.9v1.3h-1.9zM225.25 582.75h1.9v1.3h-1.9zM236.25 582.75h1.9v1.3h-1.9zM247.25 582.75h1.9v1.3h-1.9zM258.25 582.75h1.9v1.3h-1.9zM269.25 582.75h1.9v1.3h-1.9zM280.25 582.75h1.9v1.3h-1.9zM291.25 582.75h1.9v1.3h-1.9zM302.25 582.75h1.9v1.3h-1.9zM313.25 582.75h1.9v1.3h-1.9zM324.25 582.75h1.9v1.3h-1.9zM335.25 582.75h1.9v1.3h-1.9zM346.25 582.75h1.9v1.3h-1.9zM357.25 582.75h1.9v1.3h-1.9zM368.25 582.75h1.9v1.3h-1.9zM379.25 582.75h1.9v1.3h-1.9zM390.25 582.75h1.9v1.3h-1.9zM401.25 582.75h1.9v1.3h-1.9zM412.25 582.75h1.9v1.3h-1.9zM423.25 582.75h1.9v1.3h-1.9zM434.25 582.75h1.9v1.3h-1.9zM445.25 582.75h1.9v1.3h-1.9zM456.25 582.75h1.9v1.3h-1.9zM467.25 582.75h1.9v1.3h-1.9zM478.25 582.75h1.9v1.3h-1.9zM489.25 582.75h1.9v1.3h-1.9zM500.25 582.75h1.9v1.3h-1.9zM511.25 582.75h1.9v1.3h-1.9zM522.25 582.75h1.9v1.3h-1.9zM533.25 582.75h1.9v1.3h-1.9zM544.25 582.75h1.9v1.3h-1.9zM555.25 582.75h1.9v1.3h-1.9zM566.25 582.75h1.9v1.3h-1.9zM577.25 582.75h1.9v1.3h-1.9z" fill="#1a1a1a"/>
<path d="M94.60 741.20h4" stroke="#000" stroke-width="1.5"/>
<path d="M94.60 688.10h4" stroke="#000" stroke-width="1.5"/>
<path d="M94.60 634.40h4" stroke="#000" stroke-width="1.5"/>
<path d="M94.60 583.30h4" stroke="#000" stroke-width="1.5"/>
<path d="M94.60 529.40h4" stroke="#000" stroke-width="1.5"/>
<path d="M120.09 793.00v-4.4" stroke="#000" stroke-width="1.3"/>
<path d="M145.59 793.00v-4.4" stroke="#000" stroke-width="1.3"/>
<path d="M171.08 793.00v-4.4" stroke="#000" stroke-width="1.3"/>
<path d="M196.58 793.00v-4.4" stroke="#000" stroke-width="1.3"/>
<path d="M222.07 793.00v-4.4" stroke="#000" stroke-width="1.3"/>
<path d="M247.57 793.00v-4.4" stroke="#000" stroke-width="1.3"/>
<path d="M273.06 793.00v-4.4" stroke="#000" stroke-width="1.3"/>
<path d="M298.56 793.00v-4.4" stroke="#000" stroke-width="1.3"/>
<path d="M324.05 793.00v-4.4" stroke="#000" stroke-width="1.3"/>
<path d="M349.55 793.00v-4.4" stroke="#000" stroke-width="1.3"/>
<path d="M375.04 793.00v-4.4" stroke="#000" stroke-width="1.3"/>
<path d="M400.54 793.00v-4.4" stroke="#000" stroke-width="1.3"/>
<path d="M426.03 793.00v-4.4" stroke="#000" stroke-width="1.3"/>
<path d="M451.53 793.00v-4.4" stroke="#000" stroke-width="1.3"/>
<path d="M477.02 793.00v-4.4" stroke="#000" stroke-width="1.3"/>
<path d="M502.52 793.00v-4.4" stroke="#000" stroke-width="1.3"/>
<path d="M528.01 793.00v-4.4" stroke="#000" stroke-width="1.3"/>
<path d="M553.51 793.00v-4.4" stroke="#000" stroke-width="1.3"/>
<path d="M94.60 476.70V793.95" stroke="#000" stroke-width="1.8"/><path d="M579.00 476.70V793.95" stroke="#000" stroke-width="1.8"/><path d="M94.60 477.50H579.00" stroke="#000" stroke-width="1.6"/><path d="M94.60 793.00H579.00" stroke="#000" stroke-width="1.9"/>
<path d="M94.60 529.40H579.00" stroke="#000" stroke-width="1.8"/>
<path d="M362.29 529.40V573.90H387.79V617.72H566.25" fill="none" stroke="#000" stroke-width="3.2" stroke-linejoin="miter"/>
<rect x="102.45" y="525.20" width="9.8" height="9.6" rx="0.8" fill="#000"/><path d="M107.35 531.10L109.65 533.60L105.05 533.60Z" fill="#fff"/><rect x="104.05" y="526.10" width="1.4" height="1.4" fill="#fff" opacity="0.45"/><rect x="109.25" y="526.10" width="1.4" height="1.4" fill="#fff" opacity="0.45"/>
<rect x="127.94" y="525.20" width="9.8" height="9.6" rx="0.8" fill="#000"/><path d="M132.84 531.10L135.14 533.60L130.54 533.60Z" fill="#fff"/><rect x="129.54" y="526.10" width="1.4" height="1.4" fill="#fff" opacity="0.45"/><rect x="134.74" y="526.10" width="1.4" height="1.4" fill="#fff" opacity="0.45"/>
<rect x="153.44" y="525.20" width="9.8" height="9.6" rx="0.8" fill="#000"/><path d="M158.34 531.10L160.64 533.60L156.04 533.60Z" fill="#fff"/><rect x="155.04" y="526.10" width="1.4" height="1.4" fill="#fff" opacity="0.45"/><rect x="160.24" y="526.10" width="1.4" height="1.4" fill="#fff" opacity="0.45"/>
<rect x="178.93" y="525.20" width="9.8" height="9.6" rx="0.8" fill="#000"/><path d="M183.83 531.10L186.13 533.60L181.53 533.60Z" fill="#fff"/><rect x="180.53" y="526.10" width="1.4" height="1.4" fill="#fff" opacity="0.45"/><rect x="185.73" y="526.10" width="1.4" height="1.4" fill="#fff" opacity="0.45"/>
<rect x="204.43" y="525.20" width="9.8" height="9.6" rx="0.8" fill="#000"/><path d="M209.33 531.10L211.63 533.60L207.03 533.60Z" fill="#fff"/><rect x="206.03" y="526.10" width="1.4" height="1.4" fill="#fff" opacity="0.45"/><rect x="211.23" y="526.10" width="1.4" height="1.4" fill="#fff" opacity="0.45"/>
<rect x="229.92" y="525.20" width="9.8" height="9.6" rx="0.8" fill="#000"/><path d="M234.82 531.10L237.12 533.60L232.52 533.60Z" fill="#fff"/><rect x="231.52" y="526.10" width="1.4" height="1.4" fill="#fff" opacity="0.45"/><rect x="236.72" y="526.10" width="1.4" height="1.4" fill="#fff" opacity="0.45"/>
<rect x="255.42" y="525.20" width="9.8" height="9.6" rx="0.8" fill="#000"/><path d="M260.32 531.10L262.62 533.60L258.02 533.60Z" fill="#fff"/><rect x="257.02" y="526.10" width="1.4" height="1.4" fill="#fff" opacity="0.45"/><rect x="262.22" y="526.10" width="1.4" height="1.4" fill="#fff" opacity="0.45"/>
<rect x="280.91" y="525.20" width="9.8" height="9.6" rx="0.8" fill="#000"/><path d="M285.81 531.10L288.11 533.60L283.51 533.60Z" fill="#fff"/><rect x="282.51" y="526.10" width="1.4" height="1.4" fill="#fff" opacity="0.45"/><rect x="287.71" y="526.10" width="1.4" height="1.4" fill="#fff" opacity="0.45"/>
<rect x="306.41" y="525.20" width="9.8" height="9.6" rx="0.8" fill="#000"/><path d="M311.31 531.10L313.61 533.60L309.01 533.60Z" fill="#fff"/><rect x="308.01" y="526.10" width="1.4" height="1.4" fill="#fff" opacity="0.45"/><rect x="313.21" y="526.10" width="1.4" height="1.4" fill="#fff" opacity="0.45"/>
<rect x="331.90" y="525.20" width="9.8" height="9.6" rx="0.8" fill="#000"/><path d="M336.80 531.10L339.10 533.60L334.50 533.60Z" fill="#fff"/><rect x="333.50" y="526.10" width="1.4" height="1.4" fill="#fff" opacity="0.45"/><rect x="338.70" y="526.10" width="1.4" height="1.4" fill="#fff" opacity="0.45"/>
<rect x="357.39" y="525.20" width="9.8" height="9.6" rx="0.8" fill="#000"/>
<rect x="382.89" y="525.20" width="9.8" height="9.6" rx="0.8" fill="#000"/><path d="M387.79 531.10L390.09 533.60L385.49 533.60Z" fill="#fff"/><rect x="384.49" y="526.10" width="1.4" height="1.4" fill="#fff" opacity="0.45"/><rect x="389.69" y="526.10" width="1.4" height="1.4" fill="#fff" opacity="0.45"/>
<rect x="408.38" y="525.20" width="9.8" height="9.6" rx="0.8" fill="#000"/><path d="M413.28 531.10L415.58 533.60L410.98 533.60Z" fill="#fff"/><rect x="409.98" y="526.10" width="1.4" height="1.4" fill="#fff" opacity="0.45"/><rect x="415.18" y="526.10" width="1.4" height="1.4" fill="#fff" opacity="0.45"/>
<rect x="433.88" y="525.20" width="9.8" height="9.6" rx="0.8" fill="#000"/><path d="M438.78 531.10L441.08 533.60L436.48 533.60Z" fill="#fff"/><rect x="435.48" y="526.10" width="1.4" height="1.4" fill="#fff" opacity="0.45"/><rect x="440.68" y="526.10" width="1.4" height="1.4" fill="#fff" opacity="0.45"/>
<rect x="459.37" y="525.20" width="9.8" height="9.6" rx="0.8" fill="#000"/><path d="M464.27 531.10L466.57 533.60L461.97 533.60Z" fill="#fff"/><rect x="460.97" y="526.10" width="1.4" height="1.4" fill="#fff" opacity="0.45"/><rect x="466.17" y="526.10" width="1.4" height="1.4" fill="#fff" opacity="0.45"/>
<rect x="484.87" y="525.20" width="9.8" height="9.6" rx="0.8" fill="#000"/><path d="M489.77 531.10L492.07 533.60L487.47 533.60Z" fill="#fff"/><rect x="486.47" y="526.10" width="1.4" height="1.4" fill="#fff" opacity="0.45"/><rect x="491.67" y="526.10" width="1.4" height="1.4" fill="#fff" opacity="0.45"/>
<rect x="510.36" y="525.20" width="9.8" height="9.6" rx="0.8" fill="#000"/><path d="M515.26 531.10L517.56 533.60L512.96 533.60Z" fill="#fff"/><rect x="511.96" y="526.10" width="1.4" height="1.4" fill="#fff" opacity="0.45"/><rect x="517.16" y="526.10" width="1.4" height="1.4" fill="#fff" opacity="0.45"/>
<rect x="535.86" y="525.20" width="9.8" height="9.6" rx="0.8" fill="#000"/><path d="M540.76 531.10L543.06 533.60L538.46 533.60Z" fill="#fff"/><rect x="537.46" y="526.10" width="1.4" height="1.4" fill="#fff" opacity="0.45"/><rect x="542.66" y="526.10" width="1.4" height="1.4" fill="#fff" opacity="0.45"/>
<rect x="561.35" y="525.20" width="9.8" height="9.6" rx="0.8" fill="#000"/><path d="M566.25 531.10L568.55 533.60L563.95 533.60Z" fill="#fff"/><rect x="562.95" y="526.10" width="1.4" height="1.4" fill="#fff" opacity="0.45"/><rect x="568.15" y="526.10" width="1.4" height="1.4" fill="#fff" opacity="0.45"/>
<path d="M362.29 568.50L367.39 573.90L362.29 579.30L357.19 573.90Z" fill="#000"/>
<path d="M387.79 612.32L392.89 617.72L387.79 623.12L382.69 617.72Z" fill="#000"/>
<path d="M413.28 612.32L418.38 617.72L413.28 623.12L408.18 617.72Z" fill="#000"/>
<path d="M438.78 612.32L443.88 617.72L438.78 623.12L433.68 617.72Z" fill="#000"/>
<path d="M464.27 612.32L469.37 617.72L464.27 623.12L459.17 617.72Z" fill="#000"/>
<path d="M489.77 612.32L494.87 617.72L489.77 623.12L484.67 617.72Z" fill="#000"/>
<path d="M515.26 612.32L520.36 617.72L515.26 623.12L510.16 617.72Z" fill="#000"/>
<path d="M540.76 612.32L545.86 617.72L540.76 623.12L535.66 617.72Z" fill="#000"/>
<path d="M566.25 612.32L571.35 617.72L566.25 623.12L561.15 617.72Z" fill="#000"/>
<text transform="translate(86.50 799.00)" text-anchor="end" font-family='"Liberation Serif", serif' font-size="18.5" stroke="#000" stroke-width="0.25">0</text>
<text transform="translate(86.50 746.42)" text-anchor="end" font-family='"Liberation Serif", serif' font-size="18.5" stroke="#000" stroke-width="0.25">20</text>
<text transform="translate(86.50 693.83)" text-anchor="end" font-family='"Liberation Serif", serif' font-size="18.5" stroke="#000" stroke-width="0.25">40</text>
<text transform="translate(86.50 641.25)" text-anchor="end" font-family='"Liberation Serif", serif' font-size="18.5" stroke="#000" stroke-width="0.25">60</text>
<text transform="translate(86.50 588.67)" text-anchor="end" font-family='"Liberation Serif", serif' font-size="18.5" stroke="#000" stroke-width="0.25">80</text>
<text transform="translate(86.50 536.08)" text-anchor="end" font-family='"Liberation Serif", serif' font-size="18.5" stroke="#000" stroke-width="0.25">100</text>
<text transform="translate(107.35 814.60)" text-anchor="middle" font-family='"Liberation Serif", serif' font-size="18.5" stroke="#000" stroke-width="0.25">0</text>
<text transform="translate(158.34 814.60)" text-anchor="middle" font-family='"Liberation Serif", serif' font-size="18.5" stroke="#000" stroke-width="0.25">2</text>
<text transform="translate(209.33 814.60)" text-anchor="middle" font-family='"Liberation Serif", serif' font-size="18.5" stroke="#000" stroke-width="0.25">4</text>
<text transform="translate(260.32 814.60)" text-anchor="middle" font-family='"Liberation Serif", serif' font-size="18.5" stroke="#000" stroke-width="0.25">6</text>
<text transform="translate(311.31 814.60)" text-anchor="middle" font-family='"Liberation Serif", serif' font-size="18.5" stroke="#000" stroke-width="0.25">8</text>
<text transform="translate(362.29 814.60)" text-anchor="middle" font-family='"Liberation Serif", serif' font-size="18.5" stroke="#000" stroke-width="0.25">10</text>
<text transform="translate(413.28 814.60)" text-anchor="middle" font-family='"Liberation Serif", serif' font-size="18.5" stroke="#000" stroke-width="0.25">12</text>
<text transform="translate(464.27 814.60)" text-anchor="middle" font-family='"Liberation Serif", serif' font-size="18.5" stroke="#000" stroke-width="0.25">14</text>
<text transform="translate(515.26 814.60)" text-anchor="middle" font-family='"Liberation Serif", serif' font-size="18.5" stroke="#000" stroke-width="0.25">16</text>
<text transform="translate(566.25 814.60)" text-anchor="middle" font-family='"Liberation Serif", serif' font-size="18.5" stroke="#000" stroke-width="0.25">18</text>
<text transform="translate(315.00 864.80) scale(1.0900 1)" text-anchor="middle" font-family='"Liberation Serif", serif' font-size="18" stroke="#000" stroke-width="0.25">Days after infection</text>
<text transform="translate(36.20 635.40) rotate(-90) scale(1.0750 1)" text-anchor="middle" font-family='"Liberation Serif", serif' font-size="18" stroke="#000" stroke-width="0.25">Survival rate of HSV-1-infected mice (%)</text>
<path d="M94.9 881.8H127.1M94.9 906.3H127.1M324 882.5H356M324 906.1H356" stroke="#000" stroke-width="1.6"/>
<path d="M111.00 875.90L116.20 881.70L111.00 887.50L105.80 881.70Z" fill="#000"/>
<rect x="107.00" y="901.40" width="8.20" height="9.20" fill="#fff" stroke="#000" stroke-width="1.8"/>
<path d="M340.20 876.80L344.30 886.00L336.10 886.00Z" fill="#fff" stroke="#000" stroke-width="1.7" stroke-linejoin="miter" stroke-miterlimit="2"/>
<path d="M335.70 901.50L344.30 911.10M344.30 901.50L335.70 911.10" stroke="#000" stroke-width="1.6" fill="none"/>
<text transform="translate(136.30 887.60) scale(1.1400 1)" text-anchor="start" font-family='"Liberation Serif", serif' font-size="18" stroke="#000" stroke-width="0.25">Control</text>
<text transform="translate(136.30 912.30) scale(1.0730 1)" text-anchor="start" font-family='"Liberation Serif", serif' font-size="18" stroke="#000" stroke-width="0.25"><tspan font-style="italic">B. pilosa</tspan> pretreatment</text>
<text transform="translate(364.00 888.50) scale(1.0630 1)" text-anchor="start" font-family='"Liberation Serif", serif' font-size="18" stroke="#000" stroke-width="0.25"><tspan font-style="italic">B. pilosa</tspan> treatment</text>
<text transform="translate(364.00 911.90) scale(1.1000 1)" text-anchor="start" font-family='"Liberation Serif", serif' font-size="18" stroke="#000" stroke-width="0.25">ACV treatment</text>
<text transform="translate(323.00 957.20)" text-anchor="middle" font-family='"Liberation Sans", sans-serif' font-size="21" xml:space="preserve">( b )</text>
</svg></body></html>
